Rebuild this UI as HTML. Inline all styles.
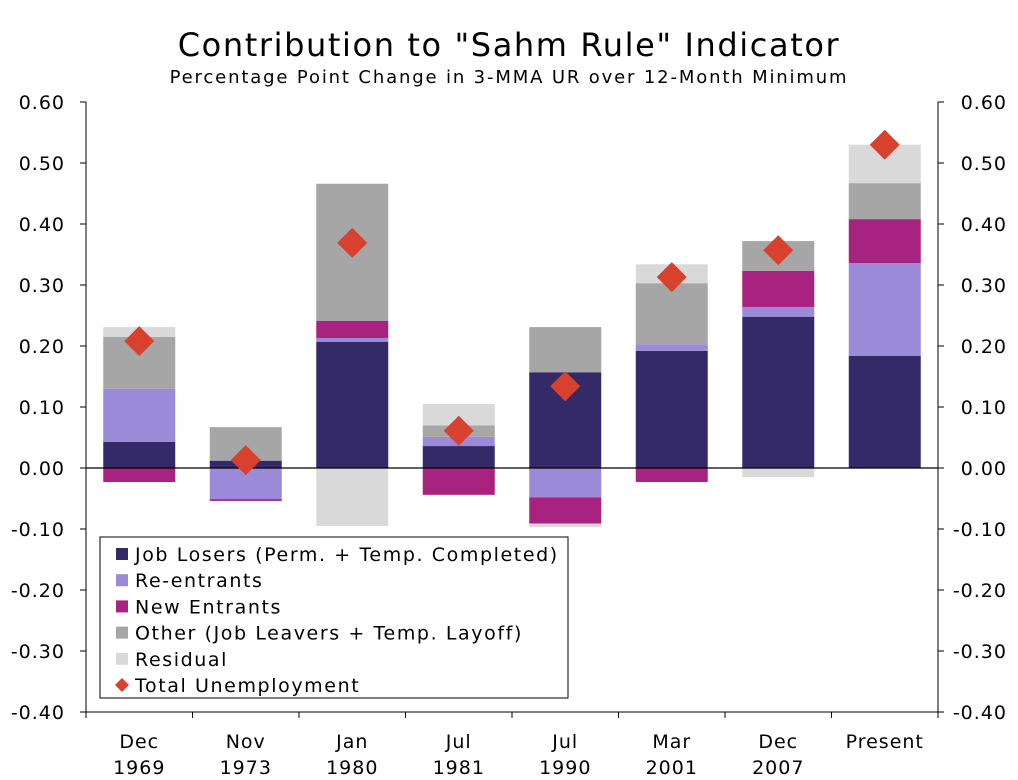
<!DOCTYPE html>
<html><head><meta charset="utf-8"><style>
body{margin:0;background:#fff;}
svg{display:block;font-family:"DejaVu Sans","Liberation Sans",sans-serif;}
</style></head><body>
<svg id="chart" width="1018" height="780" viewBox="0 0 1018 780" xmlns="http://www.w3.org/2000/svg">
<text x="509" y="56" font-size="32" letter-spacing="1.6" text-anchor="middle" fill="#000">Contribution to "Sahm Rule" Indicator</text>
<text x="509" y="83" font-size="18" letter-spacing="1.85" text-anchor="middle" fill="#000">Percentage Point Change in 3-MMA UR over 12-Month Minimum</text>
<g id="bars"></g><g id="axes"></g><g id="marks"></g>
<g>
<rect x="100" y="537" width="468" height="161" fill="#fff" stroke="#000" stroke-width="1"/>
<g id="legend-items"></g>
</g>
</svg>
<script>
const categories = ["Dec\n1969","Nov\n1973","Jan\n1980","Jul\n1981","Jul\n1990","Mar\n2001","Dec\n2007","Present"];
const jobLosers   = [0.043, 0.012, 0.207, 0.036, 0.157, 0.192, 0.248, 0.184];
const reEntrants  = [0.087, -0.051, 0.006, 0.015, -0.048, 0.011, 0.016, 0.152];
const newEntrants = [-0.023, -0.003, 0.028, -0.044, -0.043, -0.023, 0.059, 0.072];
const other       = [0.085, 0.055, 0.225, 0.019, 0.074, 0.100, 0.049, 0.059];
const residual    = [0.016, 0.000, -0.095, 0.035, -0.006, 0.031, -0.015, 0.063];
const totalUnemp  = [0.208, 0.013, 0.369, 0.061, 0.134, 0.313, 0.357, 0.530];
const yTicks = [0.6,0.5,0.4,0.3,0.2,0.1,0,-0.1,-0.2,-0.3,-0.4];
const seriesNames = ["Job Losers (Perm. + Temp. Completed)","Re-entrants","New Entrants","Other (Job Leavers + Temp. Layoff)","Residual","Total Unemployment"];

const NS="http://www.w3.org/2000/svg";
const L=86,R=938,T=102,B=712,yMin=-0.4,yMax=0.6;
const y=v=>B-(v-yMin)/(yMax-yMin)*(B-T);
const band=(R-L)/categories.length;
const xc=i=>L+band*(i+0.5);
const bw=72;
function mk(tag,attrs,parent){const e=document.createElementNS(NS,tag);for(const k in attrs)e.setAttribute(k,attrs[k]);parent.appendChild(e);return e;}
const series=[{d:jobLosers,c:"#352a68",n:"job-losers"},{d:reEntrants,c:"#9a8ad8",n:"re-entrants"},{d:newEntrants,c:"#a8237f",n:"new-entrants"},{d:other,c:"#a6a6a6",n:"other"},{d:residual,c:"#d9d9d9",n:"residual"}];
const gb=document.getElementById("bars");
categories.forEach((c,i)=>{
  let pos=0,neg=0;
  series.forEach(s=>{
    const v=s.d[i]; if(!v) return;
    let a,b;
    if(v>0){a=pos;b=pos+v;pos=b;}else{a=neg+v;b=neg;neg=a;}
    const r=mk("rect",{x:xc(i)-bw/2,y:y(b),width:bw,height:y(a)-y(b),fill:s.c},gb);
    
    
  });
});
const ga=document.getElementById("axes");
mk("line",{x1:L,y1:y(0),x2:R,y2:y(0),stroke:"#000","stroke-width":1.2},ga);
mk("line",{x1:L,y1:T,x2:L,y2:B,stroke:"#000"},ga);
mk("line",{x1:R,y1:T,x2:R,y2:B,stroke:"#000"},ga);
mk("line",{x1:L,y1:B,x2:R,y2:B,stroke:"#000"},ga);
yTicks.forEach(t=>{
  mk("line",{x1:L-6,y1:y(t),x2:L,y2:y(t),stroke:"#000"},ga);
  mk("line",{x1:R,y1:y(t),x2:R+6,y2:y(t),stroke:"#000"},ga);
  const lab=t.toFixed(2);
  const a=mk("text",{x:65,y:y(t)+7,"font-size":19,"letter-spacing":1,"text-anchor":"end"},ga);a.textContent=lab;
  
  
  const b=mk("text",{x:1007,y:y(t)+7,"font-size":19,"letter-spacing":1,"text-anchor":"end"},ga);b.textContent=lab;
  
  
});
categories.forEach((c,i)=>{
  mk("line",{x1:L+band*i,y1:B,x2:L+band*i,y2:B+6,stroke:"#000"},ga);
  const parts=c.split("\n");
  parts.forEach((p,j)=>{
    const t=mk("text",{x:xc(i),y:748+j*26,"font-size":19,"letter-spacing":1,"text-anchor":"middle"},ga);t.textContent=p;
    
    
  });
});
mk("line",{x1:R,y1:B,x2:R,y2:B+6,stroke:"#000"},ga);
const gm=document.getElementById("marks");
totalUnemp.forEach((v,i)=>{
  const cx=xc(i),cy=y(v),s=15;
  const p=mk("polygon",{points:`${cx},${cy-s} ${cx+s},${cy} ${cx},${cy+s} ${cx-s},${cy}`,fill:"#d8412e"},gm);
  
  
});
const gl=document.getElementById("legend-items");
const cols=["#352a68","#9a8ad8","#a8237f","#a6a6a6","#d9d9d9"];
seriesNames.forEach((n,k)=>{
  const yy=554+k*26.2;
  if(k<5){mk("rect",{x:116,y:yy-6,width:12,height:12,fill:cols[k]},gl);}
  else{mk("polygon",{points:`122,${yy-7} 129,${yy} 122,${yy+7} 115,${yy}`,fill:"#d8412e"},gl);}
  const t=mk("text",{x:135,y:yy+7,"font-size":19,"letter-spacing":1.6},gl);t.textContent=n;
  
  
});
</script>
</body></html>
